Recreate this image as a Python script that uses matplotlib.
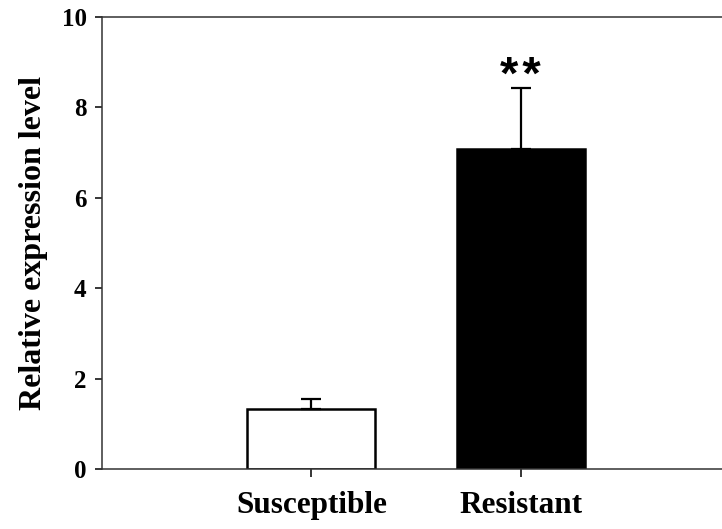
import matplotlib
matplotlib.use('Agg')
import matplotlib.pyplot as plt

groups = ['Susceptible', 'Resistant']
means = [1.33, 7.08]
errors = [0.21, 1.35]
colors = ['white', 'black']
star_label = '*\u200a*'

plt.rcParams['font.family'] = ['Liberation Serif', 'DejaVu Serif']
plt.rcParams['font.weight'] = 'bold'

fig = plt.figure(figsize=(7.22, 5.29), dpi=100)
ax = fig.add_axes([102 / 722, 60 / 529, 628 / 722, 452 / 529])

x = [1, 2]
ax.bar(x, means, width=0.61, color=colors, edgecolor='black', linewidth=1.8, zorder=2)
ax.errorbar(x, means, yerr=[[0, 0], errors], fmt='none', ecolor='black',
            elinewidth=1.6, capsize=7, capthick=1.6, zorder=3)
# significance marker above the resistant bar
ax.text(x[1], means[1] + errors[1] + 0.25, star_label, ha='center', va='center',
        fontsize=34, fontweight='bold', family=['Liberation Sans', 'DejaVu Sans'])

ax.set_xlim(0, 3)
ax.set_ylim(0, 10)
ax.set_xticks(x)
ax.set_xticklabels(groups, fontsize=22.5, fontweight='bold')
ax.set_yticks([0, 2, 4, 6, 8, 10])
ax.tick_params(axis='y', labelsize=18, length=5, width=1.1, pad=6)
ax.tick_params(axis='x', length=6, width=1.1, pad=10)
for s in ax.spines.values():
    s.set_linewidth(1.1)
    s.set_color('#333333')
ax.spines['right'].set_visible(False)
ax.set_ylabel('Relative expression level', fontsize=23, fontweight='bold', labelpad=10)

fig.savefig('out.png', dpi=100)
